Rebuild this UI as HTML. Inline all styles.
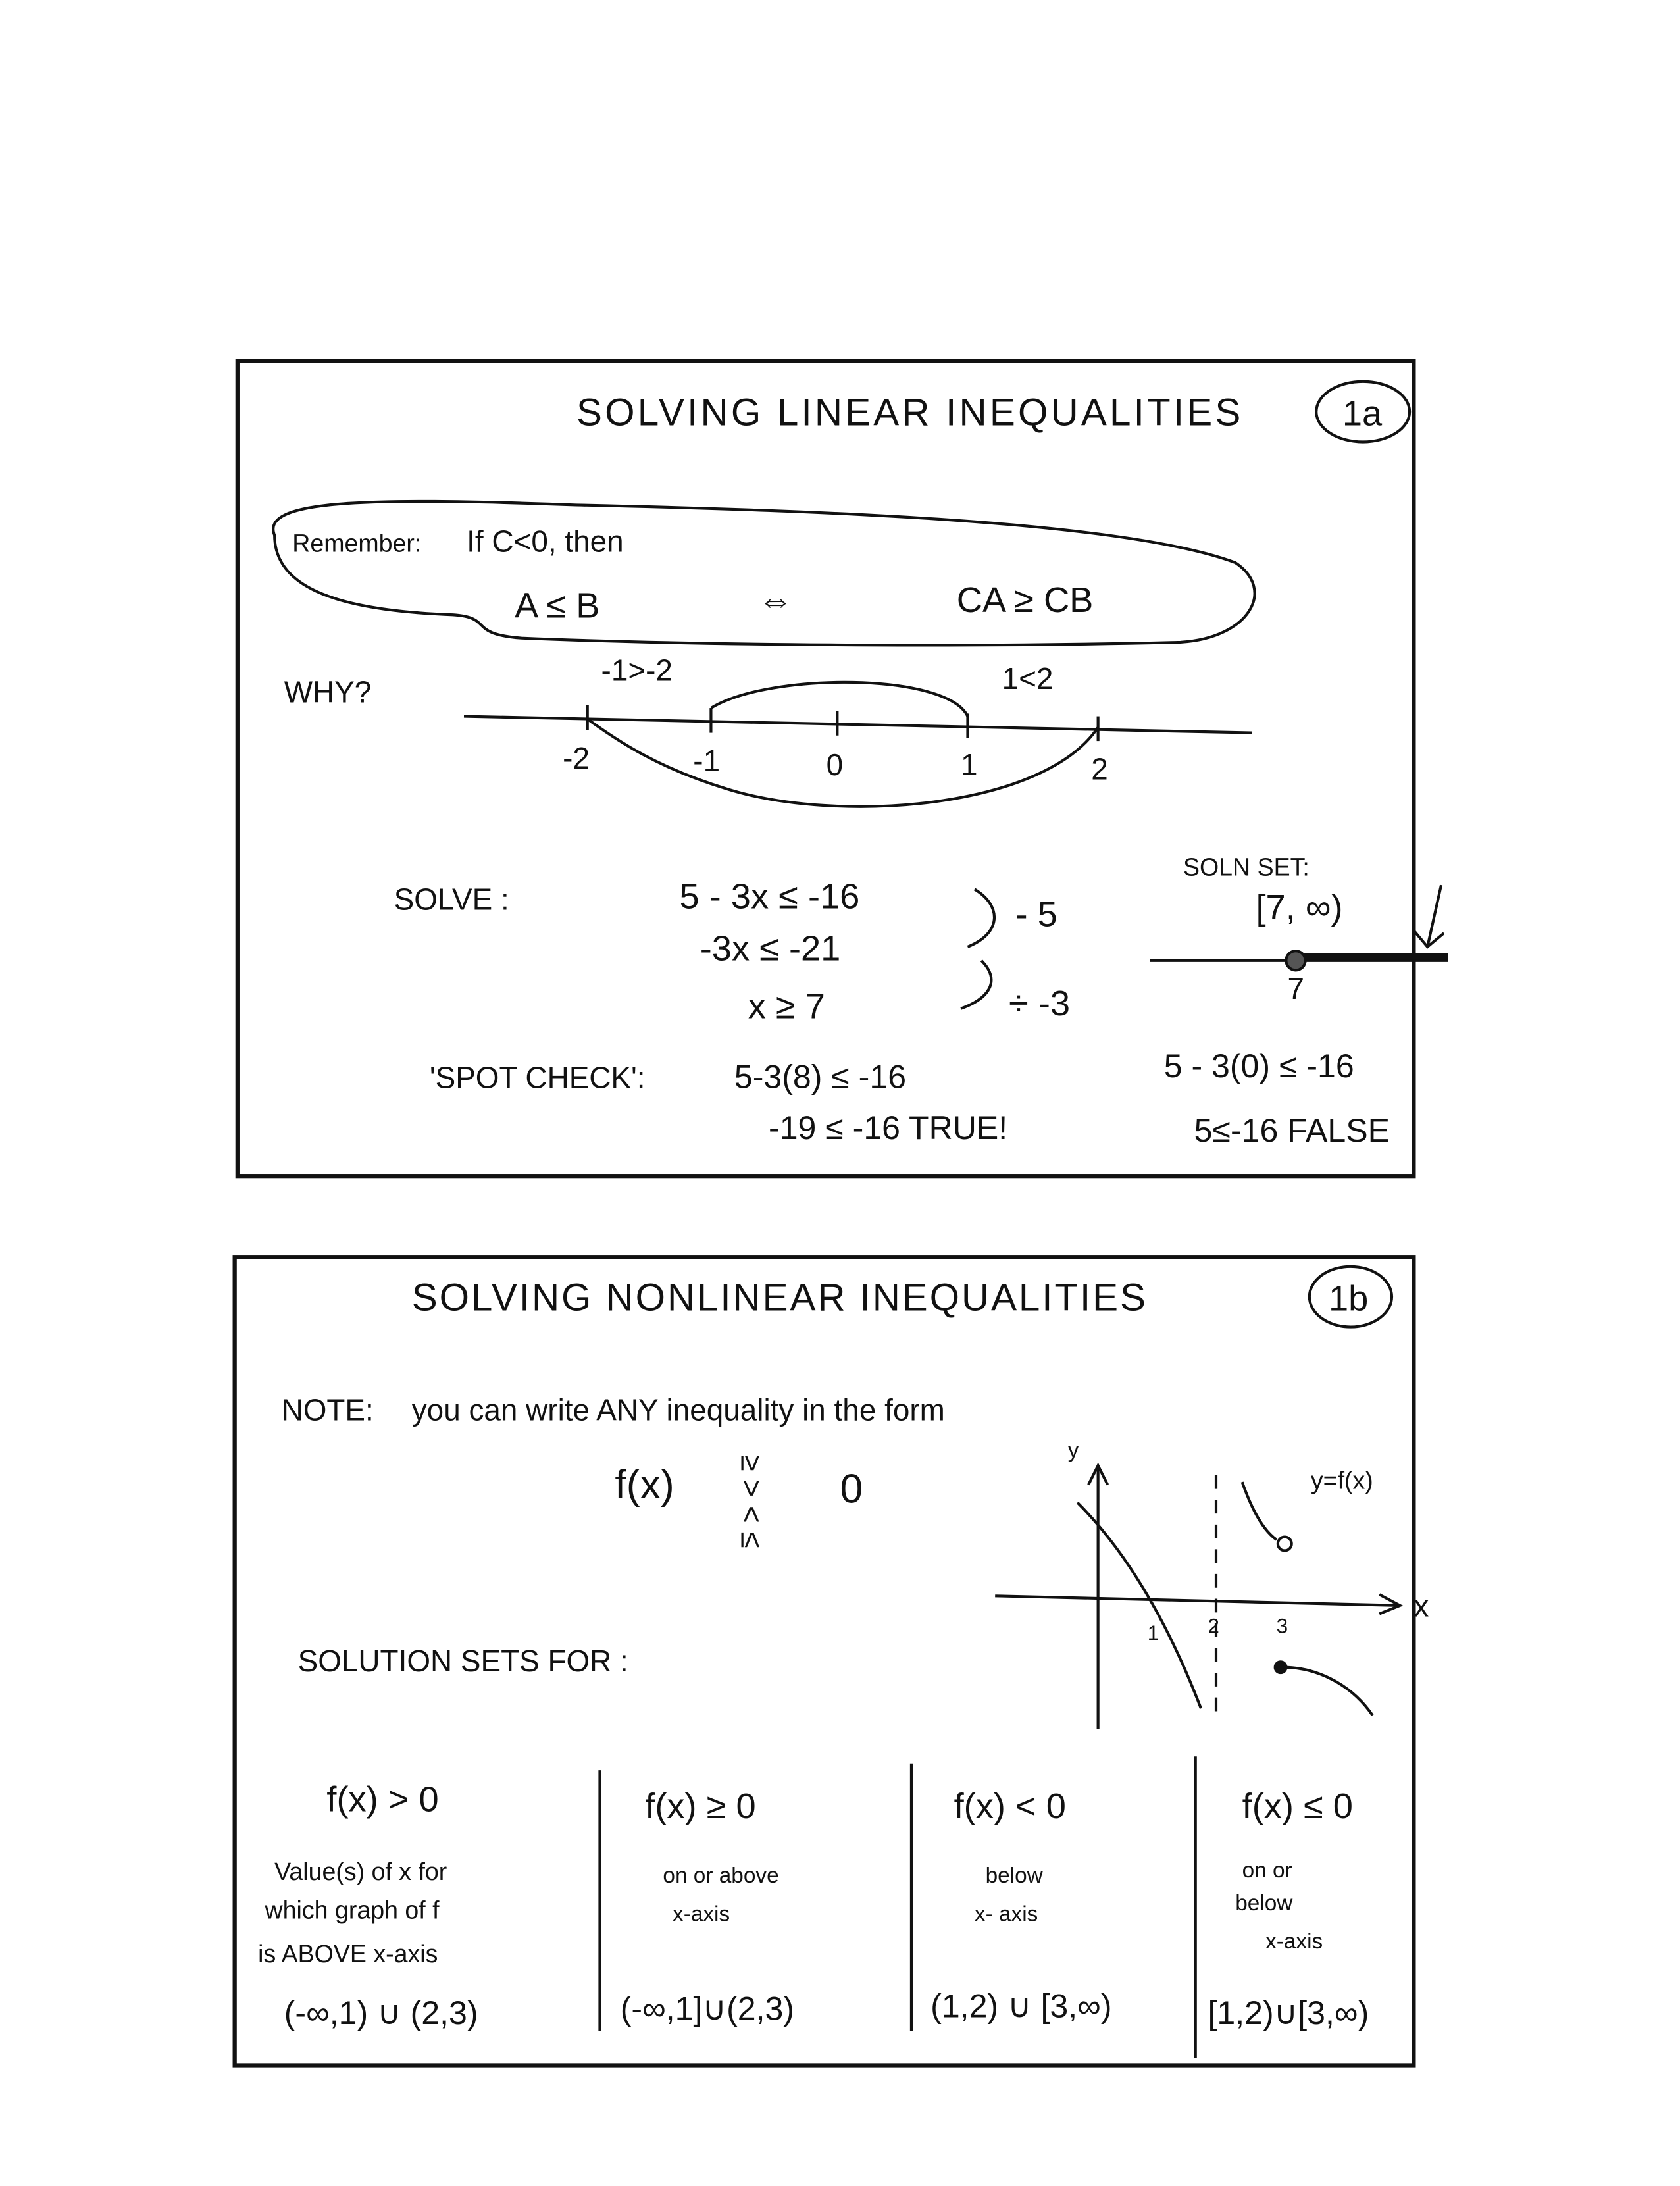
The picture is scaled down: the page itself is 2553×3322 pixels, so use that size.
<!DOCTYPE html>
<html><head><meta charset="utf-8"><style>
html,body{margin:0;padding:0;background:#fff}
svg{display:block}
text{font-family:"Liberation Sans",sans-serif;fill:#111}
</style></head><body>
<svg width="2553" height="3322" viewBox="0 0 1224 1593" preserveAspectRatio="none" xmlns="http://www.w3.org/2000/svg">
<g fill="none" stroke="#111" stroke-width="3">
<rect x="173" y="263" width="857" height="594"/>
<rect x="171" y="916" width="859" height="589"/>
</g>
<g fill="none" stroke="#111" stroke-width="2">
<path d="M200 390 C190 365 260 362 420 368 C600 372 820 380 900 410 C930 430 910 465 860 468 C700 472 500 470 380 465 C340 462 360 450 330 448 C250 445 200 430 200 390 Z"/>
<ellipse cx="993" cy="300" rx="34" ry="22"/>
<ellipse cx="984" cy="945" rx="30" ry="22"/>
<line x1="338" y1="522" x2="912" y2="534"/>
<line x1="428" y1="514" x2="428" y2="532"/><line x1="518" y1="516" x2="518" y2="534"/>
<line x1="610" y1="518" x2="610" y2="536"/><line x1="705" y1="520" x2="705" y2="538"/><line x1="800" y1="522" x2="800" y2="540"/>
<path d="M705 522 C690 490 560 490 518 516"/>
<path d="M800 530 C760 590 610 600 530 575 C480 560 450 540 428 524"/>
<path d="M710 648 C730 660 730 680 705 690"/>
<path d="M715 700 C730 715 720 728 700 735"/>
<path d="M1050 645 L1040 690 M1030 678 L1040 690 L1052 680"/>
<line x1="838" y1="700" x2="1055" y2="700" stroke-width="2"/>
<line x1="945" y1="697" x2="1055" y2="697" stroke-width="5"/>
<circle cx="944" cy="700" r="7" fill="#555"/>
<line x1="725" y1="1163" x2="1020" y2="1170"/>
<path d="M1005 1162 L1020 1170 L1005 1176"/>
<line x1="800" y1="1070" x2="800" y2="1260"/>
<path d="M793 1082 L800 1068 L807 1082"/>
<path d="M785 1095 C820 1130 850 1180 875 1245"/>
<line x1="886" y1="1075" x2="886" y2="1250" stroke-dasharray="10 8"/>
<path d="M905 1080 C912 1100 920 1115 930 1122"/>
<circle cx="936" cy="1125" r="5" fill="#fff"/>
<circle cx="933" cy="1215" r="4" fill="#111"/>
<path d="M935 1215 C960 1215 985 1228 1000 1250"/>
<line x1="437" y1="1290" x2="437" y2="1480"/>
<line x1="664" y1="1285" x2="664" y2="1480"/>
<line x1="871" y1="1280" x2="871" y2="1500"/>
</g>
<g font-size="28">
<text x="420" y="310" letter-spacing="2">SOLVING  LINEAR  INEQUALITIES</text>
<text x="978" y="310" font-size="26">1a</text>
<text x="300" y="955" letter-spacing="1.4">SOLVING  NONLINEAR  INEQUALITIES</text>
<text x="968" y="955" font-size="26">1b</text>
</g>
<g font-size="22">
<text x="213" y="402" font-size="18">Remember:</text>
<text x="340" y="402">If  C&lt;0,  then</text>
<text x="375" y="450" font-size="26">A ≤ B</text>
<text x="552" y="446" font-size="26">⇔</text>
<text x="697" y="446" font-size="26">CA ≥ CB</text>
<text x="207" y="512">WHY?</text>
<text x="438" y="496">-1&gt;-2</text><text x="730" y="502">1&lt;2</text>
<text x="410" y="560">-2</text><text x="505" y="562">-1</text><text x="602" y="565">0</text><text x="700" y="565">1</text><text x="795" y="568">2</text>
<text x="287" y="663">SOLVE :</text>
<text x="495" y="662" font-size="26">5 - 3x ≤ -16</text>
<text x="510" y="700" font-size="26">-3x ≤ -21</text>
<text x="545" y="742" font-size="26">x ≥  7</text>
<text x="740" y="675" font-size="26">- 5</text>
<text x="735" y="740" font-size="26">÷ -3</text>
<text x="862" y="638" font-size="18">SOLN SET:</text>
<text x="915" y="670" font-size="26">[7, ∞)</text>
<text x="938" y="728">7</text>
<text x="313" y="793">'SPOT CHECK':</text>
<text x="535" y="793" font-size="24">5-3(8) ≤ -16</text>
<text x="560" y="830" font-size="24">-19 ≤ -16 TRUE!</text>
<text x="848" y="785" font-size="24">5 - 3(0) ≤ -16</text>
<text x="870" y="832" font-size="24">5≤-16 FALSE</text>
<text x="205" y="1035">NOTE:</text>
<text x="300" y="1035">you can write ANY inequality in the form</text>
<text x="448" y="1092" font-size="30">f(x)</text>
<text transform="translate(540,1060) rotate(90)" font-size="22">≥ &gt; &lt; ≤</text>
<text x="612" y="1095" font-size="30">0</text>
<text x="778" y="1062" font-size="16">y</text>
<text x="955" y="1085" font-size="18">y=f(x)</text>
<text x="836" y="1195" font-size="15">1</text><text x="880" y="1190" font-size="15">2</text><text x="930" y="1190" font-size="15">3</text>
<text x="1030" y="1178">x</text>
<text x="217" y="1218">SOLUTION  SETS  FOR :</text>
<text x="238" y="1320" font-size="26">f(x) &gt; 0</text>
<text x="470" y="1325" font-size="26">f(x) ≥ 0</text>
<text x="695" y="1325" font-size="26">f(x) &lt; 0</text>
<text x="905" y="1325" font-size="26">f(x) ≤ 0</text>
<text x="200" y="1370" font-size="18">Value(s) of x for</text>
<text x="193" y="1398" font-size="18">which graph of f</text>
<text x="188" y="1430" font-size="18">is ABOVE x-axis</text>
<text x="483" y="1372" font-size="16">on or above</text><text x="490" y="1400" font-size="16">x-axis</text>
<text x="718" y="1372" font-size="16">below</text><text x="710" y="1400" font-size="16">x- axis</text>
<text x="905" y="1368" font-size="16">on or</text><text x="900" y="1392" font-size="16">below</text><text x="922" y="1420" font-size="16">x-axis</text>
<text x="207" y="1475" font-size="24">(-∞,1) ∪ (2,3)</text>
<text x="452" y="1472" font-size="24">(-∞,1]∪(2,3)</text>
<text x="678" y="1470" font-size="24">(1,2) ∪ [3,∞)</text>
<text x="880" y="1475" font-size="24">[1,2)∪[3,∞)</text>
</g>
</svg>
</body></html>
